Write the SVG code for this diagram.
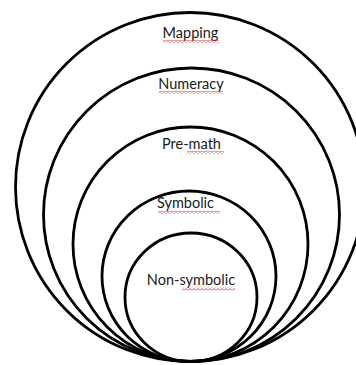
<svg xmlns="http://www.w3.org/2000/svg" width="356" height="365" viewBox="0 0 356 365">
  <style>
    .ring { fill: none; stroke: #000; stroke-width: 2.8; }
    .lbl { font-family: Lato, "Open Sans", "Liberation Sans", sans-serif; font-size: 14.5px; fill: #1a1a1a; text-anchor: middle; }
  </style>
  <defs>
    <pattern id="squiggle" patternUnits="userSpaceOnUse" width="4" height="3">
      <path d="M0,2.4 L2,0.6 L4,2.4" fill="none" stroke="#e0363c" stroke-width="0.9"/>
    </pattern>
  </defs>
  <rect width="356" height="365" fill="#fff"/>
  <g id="mapping">
    <ellipse class="ring" cx="190" cy="187" rx="174.5" ry="174.5"/>
    <text class="lbl" x="190.5" y="38">Mapping</text>
    <rect x="163" y="40" width="56" height="3" fill="url(#squiggle)"/>
  </g>
  <g id="numeracy">
    <ellipse class="ring" cx="191.5" cy="214.75" rx="148" ry="146.75"/>
    <text class="lbl" x="191" y="88.5">Numeracy</text>
    <rect x="159" y="91" width="64" height="3" fill="url(#squiggle)"/>
  </g>
  <g id="pre-math">
    <ellipse class="ring" cx="190.5" cy="244.25" rx="117.5" ry="117.25"/>
    <text class="lbl" x="191.5" y="148.5">Pre-math</text>
    <rect x="187" y="151" width="37" height="3" fill="url(#squiggle)"/>
  </g>
  <g id="symbolic">
    <ellipse class="ring" cx="189" cy="276.25" rx="87" ry="85.25"/>
    <text class="lbl" x="185.5" y="208">Symbolic</text>
    <rect x="158" y="211" width="62" height="3" fill="url(#squiggle)"/>
  </g>
  <g id="non-symbolic">
    <ellipse class="ring" cx="191" cy="297.25" rx="66" ry="64.25"/>
    <text class="lbl" x="191" y="285">Non-symbolic</text>
    <rect x="182" y="287.5" width="53" height="3" fill="url(#squiggle)"/>
  </g>
</svg>
